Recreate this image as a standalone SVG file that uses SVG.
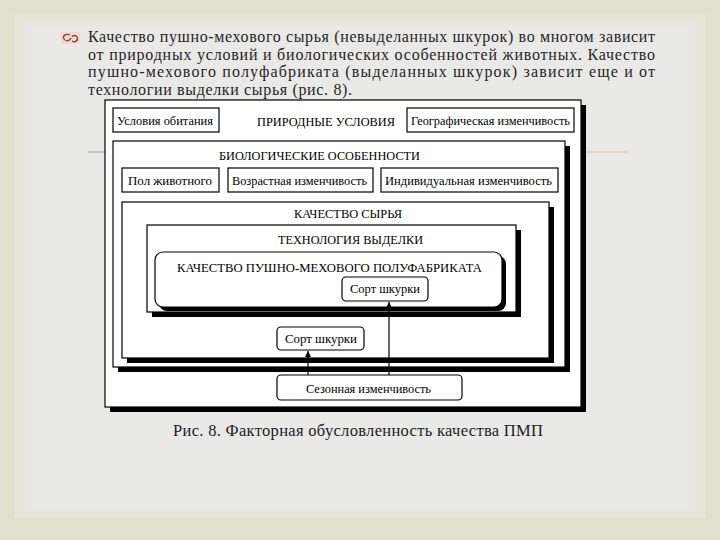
<svg xmlns="http://www.w3.org/2000/svg" width="720" height="540" viewBox="0 0 720 540">
<defs>
<style>
.box{fill:#fff;stroke:#000;stroke-width:1.2}
.sh{fill:#000}
.conn{stroke:#000;stroke-width:1.2;fill:none}
</style>
<marker id="ah" viewBox="0 0 10 10" refX="10" refY="5" markerWidth="5" markerHeight="5" orient="auto">
<path d="M0,0 L10,5 L0,10 z" fill="#000"/>
</marker>
</defs>

<!-- slide background -->
<rect x="0" y="0" width="720" height="540" fill="#e2dfcd"/>
<rect x="14" y="14" width="692" height="504" fill="#e5e4d9"/>
<rect x="24" y="20" width="672" height="492" fill="#e7e7e2"/>
<rect x="32" y="26" width="656" height="480" fill="#e9e9e8"/>
<line x1="88" y1="152" x2="105" y2="152" stroke="#b7b59e" stroke-width="1.5"/>
<line x1="587" y1="152" x2="628" y2="152" stroke="#efc9ad" stroke-width="1.5"/>

<!-- bullet -->
<g id="bullet">
<rect x="61" y="32" width="19" height="12" fill="#f3d9d3"/>
<path d="M70,35 C66,33 62,36 64,39 C66,42 70,41 71,38 M72,41 C75,43 79,40 77,37 C76,35 73,35 72,37" stroke="#9a3a32" stroke-width="1.3" fill="none"/>
</g>

<!-- paragraph -->
<g id="paragraph" font-family="Liberation Serif, Times New Roman, serif" font-size="16" fill="#262626">
<text x="88" y="42" textLength="567" lengthAdjust="spacing">Качество пушно-мехового сырья (невыделанных шкурок) во многом зависит</text>
<text x="88" y="60" textLength="567" lengthAdjust="spacing">от природных условий и биологических особенностей животных. Качество</text>
<text x="88" y="77" textLength="567" lengthAdjust="spacing">пушно-мехового полуфабриката (выделанных шкурок) зависит еще и от</text>
<text x="88" y="95" textLength="264" lengthAdjust="spacing">технологии выделки сырья (рис. 8).</text>
</g>

<g font-family="Liberation Serif, Times New Roman, serif" font-size="11.5" fill="#000">
<!-- outer frame: природные условия -->
<g id="natural">
<rect class="sh" x="110" y="105" width="476" height="307"/>
<rect class="box" x="105" y="100" width="476" height="307"/>
<text x="257" y="126" textLength="138" lengthAdjust="spacingAndGlyphs">ПРИРОДНЫЕ УСЛОВИЯ</text>
</g>
<g id="habitat">
<rect class="box" x="113" y="108" width="106" height="24" stroke-width="1.5"/>
<text x="117" y="125" textLength="96" lengthAdjust="spacingAndGlyphs">Условия обитания</text>
</g>
<g id="geo">
<rect class="box" x="407" y="108" width="167" height="24" stroke-width="1.5"/>
<text x="411" y="125" textLength="159" lengthAdjust="spacingAndGlyphs">Географическая изменчивость</text>
</g>

<!-- biological -->
<g id="bio">
<rect class="sh" x="118" y="146" width="452" height="226"/>
<rect class="box" x="113" y="141" width="452" height="226"/>
<text x="219" y="160" textLength="201" lengthAdjust="spacingAndGlyphs">БИОЛОГИЧЕСКИЕ ОСОБЕННОСТИ</text>
</g>
<g id="sex">
<rect class="box" x="122" y="168" width="97" height="24"/>
<text x="128" y="185" textLength="84" lengthAdjust="spacingAndGlyphs">Пол животного</text>
</g>
<g id="age">
<rect class="box" x="228" y="168" width="145" height="24"/>
<text x="232" y="185" textLength="135" lengthAdjust="spacingAndGlyphs">Возрастная изменчивость</text>
</g>
<g id="individual">
<rect class="box" x="381" y="168" width="177" height="24"/>
<text x="385" y="185" textLength="167" lengthAdjust="spacingAndGlyphs">Индивидуальная изменчивость</text>
</g>

<!-- raw quality -->
<g id="raw">
<rect class="sh" x="127" y="207" width="427" height="156"/>
<rect class="box" x="122" y="202" width="427" height="156"/>
<text x="294" y="218" textLength="108" lengthAdjust="spacingAndGlyphs">КАЧЕСТВО СЫРЬЯ</text>
</g>

<!-- technology -->
<g id="tech">
<rect class="sh" x="152" y="230" width="369" height="87"/>
<rect class="box" x="147" y="225" width="369" height="87"/>
<text x="278" y="244" textLength="145" lengthAdjust="spacingAndGlyphs">ТЕХНОЛОГИЯ ВЫДЕЛКИ</text>
</g>

<!-- semi-finished quality -->
<g id="pmp">
<rect class="sh" x="159" y="256" width="347" height="55" rx="8"/>
<rect class="box" x="155" y="252" width="347" height="55" rx="8"/>
<text x="177" y="272" textLength="305" lengthAdjust="spacingAndGlyphs">КАЧЕСТВО ПУШНО-МЕХОВОГО ПОЛУФАБРИКАТА</text>
</g>
<g id="sort1">
<rect class="box" x="342" y="277" width="86" height="24" rx="4"/>
<text x="350" y="293" textLength="70" lengthAdjust="spacingAndGlyphs">Сорт шкурки</text>
</g>

<g id="sort2">
<rect class="box" x="277" y="327" width="87" height="23" rx="4"/>
<text x="285" y="343" textLength="72" lengthAdjust="spacingAndGlyphs">Сорт шкурки</text>
</g>

<g id="seasonal">
<rect class="box" x="277" y="375" width="185" height="25" rx="4"/>
<text x="306" y="393" textLength="125" lengthAdjust="spacingAndGlyphs">Сезонная изменчивость</text>
</g>
</g>

<!-- connectors -->
<g id="connectors">
<line class="conn" x1="389" y1="375" x2="389" y2="302" marker-end="url(#ah)"/>
<line class="conn" x1="308" y1="375" x2="308" y2="351" marker-end="url(#ah)"/>
</g>

<g id="caption" font-family="Liberation Serif, Times New Roman, serif" font-size="16.5" fill="#222">
<text x="173" y="436" textLength="370" lengthAdjust="spacing">Рис. 8. Факторная обусловленность качества ПМП</text>
</g>
</svg>
